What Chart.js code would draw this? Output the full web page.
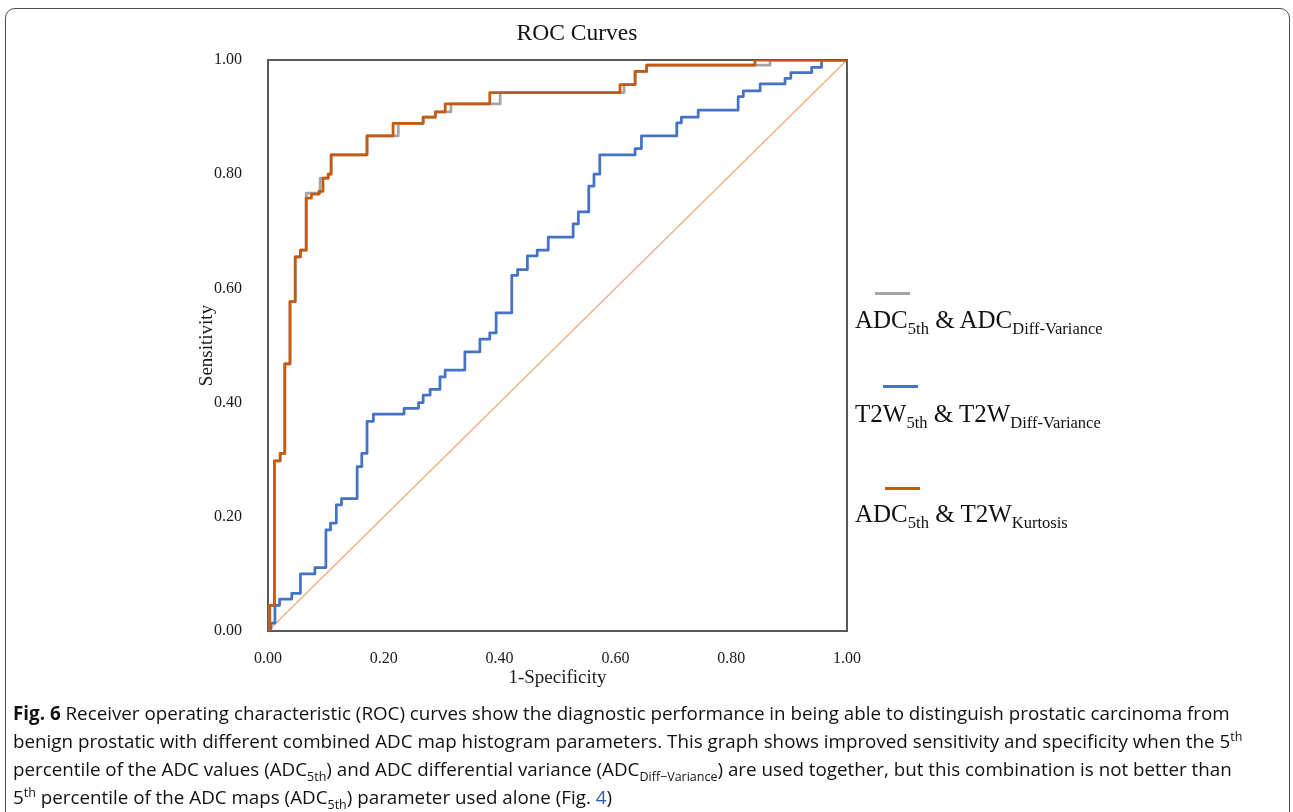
<!DOCTYPE html>
<html>
<head>
<meta charset="utf-8">
<script src="https://cdn.jsdelivr.net/npm/chart.js@4"></script>
<style>
  body { margin: 0; background: #fff; width: 1293px; height: 812px; overflow: hidden; position: relative; }
  #frame { position: absolute; left: 5px; top: 8px; width: 1283px; height: 840px; border: 1px solid #4d4d4d; border-radius: 10px; }
  #chartBox { position: absolute; left: 0; top: 0; width: 1293px; height: 700px; }
  .serif { font-family: "Liberation Serif", "Times New Roman", serif; color: #111; }
  #title { position: absolute; left: 477px; top: 18px; width: 200px; text-align: center; font-size: 23.5px; line-height: 28px; }
  .legText { position: absolute; left: 855px; font-size: 25px; line-height: 1; white-space: nowrap; }
  .legText sub { font-size: 16.5px; vertical-align: -6px; line-height: 0; }
  .legLine { position: absolute; width: 35px; height: 2.5px; }
  #caption { position: absolute; left: 13px; top: 699px; font-family: "Open Sans", sans-serif; font-size: 18.8px; line-height: 28px; color: #111; white-space: nowrap; }
  #caption sup, #caption sub { font-size: 12.5px; line-height: 0; }
  #caption a { color: #2a56c6; text-decoration: none; }
</style>
</head>
<body>
<div id="frame"></div>
<div id="chartBox"><canvas id="rocChart" width="1293" height="700"></canvas></div>
<div id="title" class="serif">ROC Curves</div>

<div class="legLine" style="left:875px; top:292px; background:#A5A5A5;"></div>
<div class="legText serif" style="top:307px;">ADC<sub>5th</sub> &amp; ADC<sub>Diff-Variance</sub></div>
<div class="legLine" style="left:883px; top:385px; background:#4472C4;"></div>
<div class="legText serif" style="top:401px;">T2W<sub>5th</sub> &amp; T2W<sub>Diff-Variance</sub></div>
<div class="legLine" style="left:885px; top:487px; background:#C55A11;"></div>
<div class="legText serif" style="top:501px;">ADC<sub>5th</sub> &amp; T2W<sub>Kurtosis</sub></div>

<div id="caption">
  <b>Fig. 6</b> Receiver operating characteristic (ROC) curves show the diagnostic performance in being able to distinguish prostatic carcinoma from<br>
  benign prostatic with different combined ADC map histogram parameters. This graph shows improved sensitivity and specificity when the 5<sup>th</sup><br>
  percentile of the ADC values (ADC<sub>5th</sub>) and ADC differential variance (ADC<sub>Diff−Variance</sub>) are used together, but this combination is not better than<br>
  5<sup>th</sup> percentile of the ADC maps (ADC<sub>5th</sub>) parameter used alone (Fig. <a>4</a>)
</div>

<script>
// ROC data (1-specificity, sensitivity)
const adcDiffVarFpr = [0, 0.003, 0.011, 0.021, 0.029, 0.038, 0.047, 0.056, 0.066, 0.090, 0.104, 0.109, 0.171, 0.225, 0.268, 0.289, 0.316, 0.401, 0.615, 0.634, 0.654, 0.867, 1];
const adcDiffVarTpr = [0, 0.045, 0.298, 0.311, 0.468, 0.577, 0.655, 0.667, 0.767, 0.793, 0.800, 0.834, 0.867, 0.889, 0.900, 0.909, 0.923, 0.943, 0.957, 0.980, 0.991, 1.0, 1.0];

const t2wDiffVarFpr = [0, 0.005, 0.012, 0.020, 0.041, 0.056, 0.081, 0.100, 0.108, 0.118, 0.127, 0.154, 0.162, 0.171, 0.182, 0.235, 0.260, 0.268, 0.280, 0.297, 0.306, 0.340, 0.366, 0.383, 0.394, 0.421, 0.431, 0.448, 0.465, 0.484, 0.527, 0.536, 0.554, 0.563, 0.573, 0.634, 0.645, 0.706, 0.714, 0.743, 0.812, 0.821, 0.850, 0.893, 0.903, 0.939, 0.956, 1];
const t2wDiffVarTpr = [0, 0.014, 0.045, 0.056, 0.066, 0.100, 0.111, 0.177, 0.189, 0.221, 0.232, 0.288, 0.311, 0.367, 0.380, 0.390, 0.400, 0.413, 0.423, 0.445, 0.457, 0.489, 0.511, 0.522, 0.557, 0.623, 0.633, 0.657, 0.667, 0.690, 0.713, 0.734, 0.779, 0.800, 0.834, 0.845, 0.867, 0.890, 0.900, 0.912, 0.936, 0.946, 0.958, 0.968, 0.978, 0.987, 1.0, 1.0];

const adcKurtFpr = [0, 0.003, 0.011, 0.021, 0.029, 0.038, 0.047, 0.056, 0.066, 0.075, 0.088, 0.095, 0.104, 0.109, 0.171, 0.216, 0.268, 0.289, 0.306, 0.383, 0.608, 0.634, 0.654, 0.841, 1];
const adcKurtTpr = [0, 0.045, 0.298, 0.311, 0.468, 0.577, 0.655, 0.667, 0.758, 0.765, 0.770, 0.793, 0.800, 0.834, 0.867, 0.889, 0.900, 0.909, 0.923, 0.943, 0.957, 0.980, 0.991, 1.0, 1.0];

const chanceX = [0, 1];
const chanceY = [0, 1];

const axisTicks = [0, 0.2, 0.4, 0.6, 0.8, 1.0];

const toPoints = (xs, ys) => xs.map((x, i) => ({ x: x, y: ys[i] }));

const serifFont = '"Liberation Serif", "Times New Roman", serif';

// dark frame around the plot area
const plotFrame = {
    id: 'plotFrame',
    beforeDatasetsDraw(chart) {
        const { ctx, chartArea: a } = chart;
        ctx.save();
        ctx.strokeStyle = '#595959';
        ctx.lineWidth = 2;
        ctx.strokeRect(a.left, a.top, a.right - a.left, a.bottom - a.top);
        ctx.restore();
    }
};

const stepLine = (label, data, color, order) => ({
    label: label,
    data: data,
    borderColor: color,
    backgroundColor: color,
    borderWidth: 2.75,
    pointRadius: 0,
    stepped: 'before',
    fill: false,
    borderJoinStyle: 'round',
    order: order
});

new Chart(document.getElementById('rocChart').getContext('2d'), {
    type: 'line',
    data: {
        datasets: [
            stepLine('ADC5th & T2WKurtosis', toPoints(adcKurtFpr, adcKurtTpr), '#C55A11', 0),
            stepLine('T2W5th & T2WDiff-Variance', toPoints(t2wDiffVarFpr, t2wDiffVarTpr), '#4472C4', 1),
            stepLine('ADC5th & ADCDiff-Variance', toPoints(adcDiffVarFpr, adcDiffVarTpr), '#A5A5A5', 2),
            {
                label: 'Reference',
                data: toPoints(chanceX, chanceY),
                borderColor: '#F4B183',
                borderWidth: 1.5,
                pointRadius: 0,
                fill: false,
                order: 3
            }
        ]
    },
    options: {
        responsive: false,
        animation: false,
        layout: { padding: { left: 190, right: 446, top: 60, bottom: 9 } },
        plugins: {
            legend: { display: false },
            tooltip: { enabled: false },
            title: { display: false }
        },
        scales: {
            x: {
                type: 'linear',
                min: 0,
                max: 1,
                afterFit: (scale) => { scale.height = 60; },
                afterBuildTicks: (scale) => { scale.ticks = axisTicks.map(v => ({ value: v })); },
                grid: { display: false },
                border: { display: false },
                ticks: {
                    padding: 10,
                    color: '#1a1a1a',
                    font: { family: serifFont, size: 16 },
                    callback: (v) => Number(v).toFixed(2)
                },
                title: {
                    display: true,
                    text: '1-Specificity',
                    color: '#1a1a1a',
                    font: { family: serifFont, size: 19 },
                    padding: { top: 0, bottom: 2 }
                }
            },
            y: {
                type: 'linear',
                min: 0,
                max: 1,
                afterFit: (scale) => { scale.width = 78; },
                afterBuildTicks: (scale) => { scale.ticks = axisTicks.map(v => ({ value: v })); },
                grid: { display: false },
                border: { display: false },
                ticks: {
                    padding: 18,
                    color: '#1a1a1a',
                    font: { family: serifFont, size: 16 },
                    callback: (v) => Number(v).toFixed(2)
                },
                title: {
                    display: true,
                    text: 'Sensitivity',
                    color: '#1a1a1a',
                    font: { family: serifFont, size: 19 },
                    padding: { top: 6, bottom: 0 }
                }
            }
        }
    },
    plugins: [plotFrame]
});
</script>
</body>
</html>
